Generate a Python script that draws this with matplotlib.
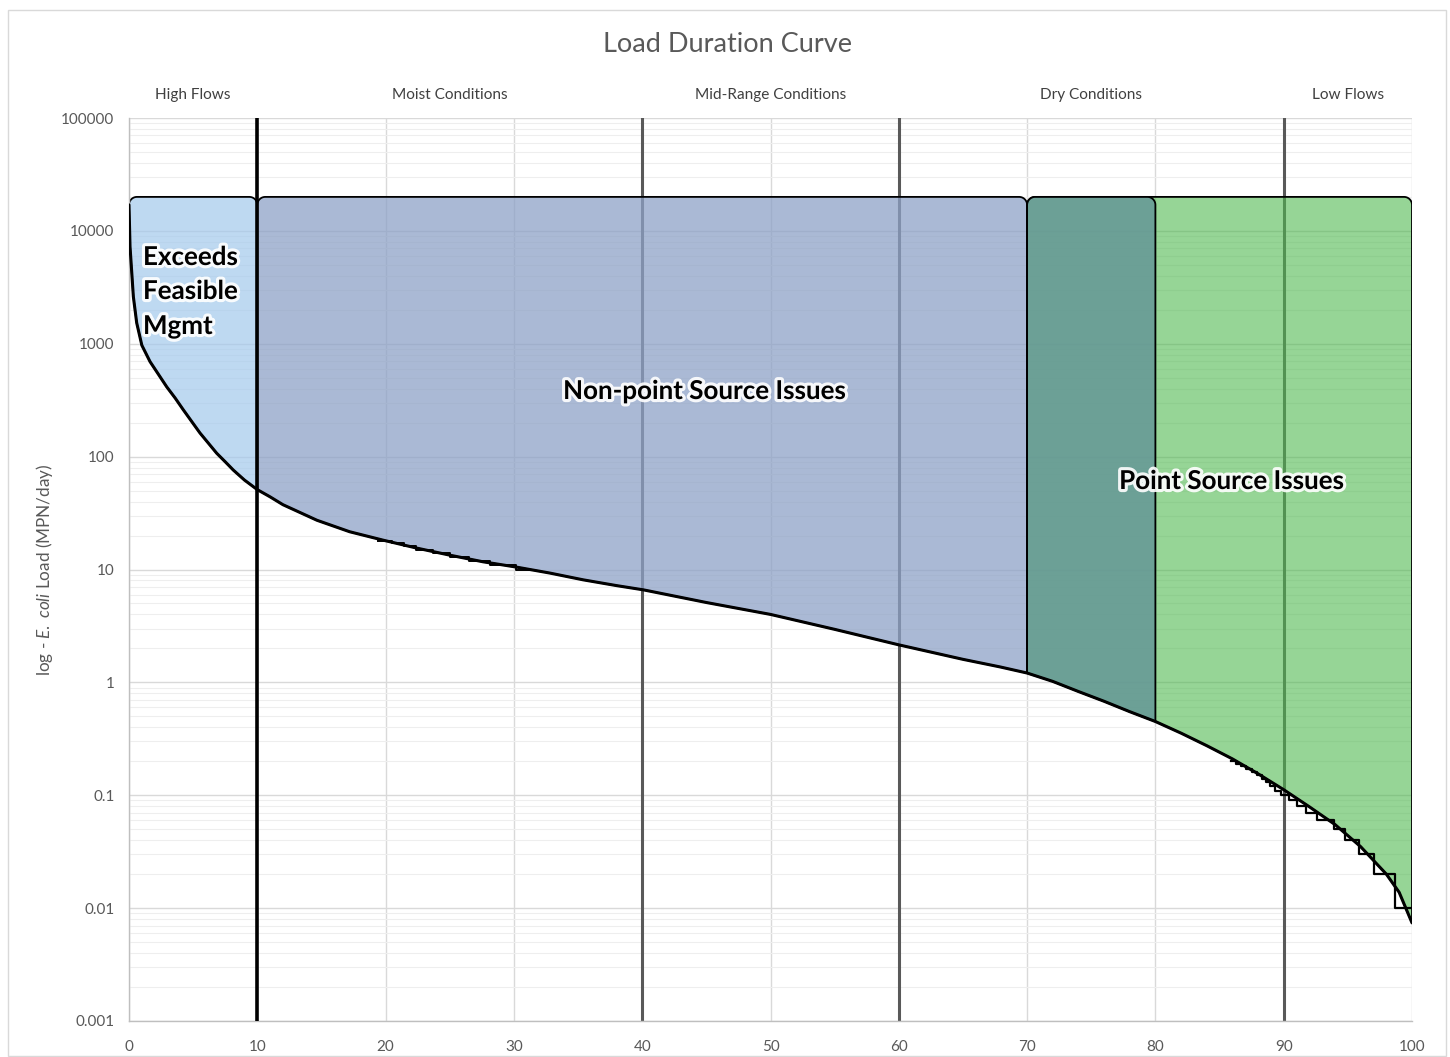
import numpy as np
import matplotlib
matplotlib.use('Agg')
import matplotlib.pyplot as plt
from matplotlib.patches import Polygon, Rectangle
from matplotlib.colors import to_rgba
from matplotlib.ticker import FixedLocator, LogLocator, NullFormatter
import matplotlib.patheffects as pe

# ---------------- data ----------------
curve_x = [0, 0.08, 0.34, 0.6, 1.0, 1.64, 2.94, 3.6, 4.23, 5.53, 6.84, 7.5, 8.13,
           9.0, 10.0, 11.0, 12.0, 14.65, 17.2, 19.8, 22.4, 25.0, 27.6, 30.2,
           32.8, 35.4, 38.0, 40.1, 45, 50, 55, 60, 65, 67.9, 70.0, 72, 74, 76,
           78, 80, 82, 84, 86, 88, 90, 92, 94, 96, 98, 99, 100]
curve_y = [17000, 7240, 2610, 1530, 970, 694, 415, 330, 260, 162, 107, 90, 76,
           62, 51, 44, 37.5, 27.3, 21.6, 18.2, 15.5, 13.4, 11.7, 10.5,
           9.3, 8.1, 7.2, 6.6, 5.1, 4.0, 2.95, 2.15, 1.6, 1.37, 1.21, 1.02, 0.83, 0.68,
           0.55, 0.45, 0.355, 0.275, 0.21, 0.155, 0.112, 0.079, 0.055, 0.035, 0.02,
           0.0138, 0.0074]

# step (measured) data where the rounding steps are visible
step_hi_x = [19.4, 20.5, 21.4, 22.4, 23.7, 25.0, 26.5, 28.1, 30.2, 31.6]
step_hi_v = [18, 17, 16, 15, 14, 13, 12, 11, 10]
step_lo_x = [85.9, 86.3, 86.7, 87.1, 87.5, 87.9, 88.3, 88.6, 88.9, 89.3, 89.8,
             90.4, 91.0, 91.7, 92.6, 93.9, 94.8, 95.9, 97.0, 98.7, 100]
step_lo_v = [0.20, 0.19, 0.18, 0.17, 0.16, 0.15, 0.14, 0.13, 0.12, 0.11, 0.10,
             0.09, 0.08, 0.07, 0.06, 0.05, 0.04, 0.03, 0.02, 0.01]

zone_names = ["High Flows", "Moist Conditions", "Mid-Range Conditions",
              "Dry Conditions", "Low Flows"]
zone_centers = [5, 25, 50, 75, 95]
zone_bounds_gray = [40, 60, 90]
zone_bound_black = 10

x_ticks = [0, 10, 20, 30, 40, 50, 60, 70, 80, 90, 100]
y_ticks = [0.001, 0.01, 0.1, 1, 10, 100, 1000, 10000, 100000]
y_ticklabels = ["0.001", "0.01", "0.1", "1", "10", "100", "1000", "10000", "100000"]

shape_top = 20000
# (x0, x1, color, alpha)
shapes = [
    (0, 10, "#a3c9ec", 0.70),
    (10, 70, "#8ea2c7", 0.75),
    (70, 100, "#50b950", 0.60),
    (70, 80, "#659797", 0.85),
]

# ---------------- figure ----------------
W, H = 1450, 1057
fig = plt.figure(figsize=(14.5, 10.57), dpi=100)
def fx(px): return px / W
def fy(py): return 1 - py / H

fig.patches.append(Rectangle((fx(8), fy(1056)), fx(1446) - fx(8), fy(10) - fy(1056),
                             transform=fig.transFigure, fill=False,
                             edgecolor="#d9d9d9", lw=1.0))

FONT = "Lato"
plt.rcParams["font.family"] = [FONT, "DejaVu Sans"]
plt.rcParams["mathtext.fontset"] = "custom"
plt.rcParams["mathtext.it"] = FONT + ":italic"
plt.rcParams["mathtext.rm"] = FONT

ax = fig.add_axes([fx(129), fy(1021), fx(1412) - fx(129), fy(118) - fy(1021)])
ax.set_yscale("log")
ax.set_xlim(0, 100)
ax.set_ylim(1e-3, 1e5)

ax.yaxis.set_major_locator(FixedLocator(y_ticks))
ax.set_yticklabels(y_ticklabels)
ax.yaxis.set_minor_locator(LogLocator(base=10, subs=np.arange(2, 10)))
ax.yaxis.set_minor_formatter(NullFormatter())
ax.set_xticks(x_ticks)
ax.set_xticklabels([str(v) for v in x_ticks])

ax.set_axisbelow(True)
ax.grid(which="major", axis="both", color="#d9d9d9", lw=1.0, zorder=0)
ax.grid(which="minor", axis="y", color="#eeeeee", lw=0.8, zorder=0)
ax.tick_params(which="both", length=0)
ax.tick_params(axis="y", labelsize=11, labelcolor="#595959", pad=10.5)
ax.tick_params(axis="x", labelsize=11, labelcolor="#595959", pad=13.5)
for s in ["top", "right"]:
    ax.spines[s].set_visible(False)
for s in ["left", "bottom"]:
    ax.spines[s].set_color("#bfbfbf")
    ax.spines[s].set_linewidth(1.0)

# zone boundary lines
for xb in zone_bounds_gray:
    ax.axvline(xb, color="#595959", lw=2.2, zorder=1)

# shapes
cx = np.array(curve_x, dtype=float)
cw = np.log10(np.array(curve_y, dtype=float))
rx, rw = 0.62, 0.071
topw = np.log10(shape_top)
t = np.linspace(0, np.pi / 2, 14)
for x0, x1, col, al in shapes:
    m = (cx >= x0) & (cx <= x1)
    bx, bw = cx[m], cw[m]
    verts = [(bx[0], bw[0])]
    verts += [(x0 + rx - rx * np.cos(a), topw - rw + rw * np.sin(a)) for a in t]
    verts += [(x1 - rx + rx * np.sin(a), topw - rw + rw * np.cos(a)) for a in t]
    verts += [(xx, ww) for xx, ww in zip(bx[::-1], bw[::-1])]
    verts = [(vx, 10 ** vw) for vx, vw in verts]
    ax.add_patch(Polygon(verts, closed=True, facecolor=to_rgba(col, al),
                         edgecolor="black", lw=1.3, zorder=2, joinstyle="round"))

# curve and steps
ax.plot(curve_x, curve_y, color="black", lw=2.2, zorder=3, solid_capstyle="round",
        solid_joinstyle="round")
ax.step(step_hi_x, step_hi_v + [step_hi_v[-1]], where="post", color="black", lw=1.4, zorder=3)
ax.step(step_lo_x, step_lo_v + [step_lo_v[-1]], where="post", color="black", lw=1.6, zorder=3)

ax.axvline(zone_bound_black, color="black", lw=2.6, zorder=4)

# texts
fig.text(fx(727), fy(44), "Load Duration Curve", ha="center", va="center",
         fontsize=19.5, color="#595959")
for name, c in zip(zone_names, zone_centers):
    ax.text(c, 1.0 + 23 / 903, name, transform=ax.get_xaxis_transform(),
            ha="center", va="center", fontsize=11.1, color="#404040")
fig.text(fx(45), fy(570), r"log - $\mathit{E.\ coli}$ Load (MPN/day)", rotation=90,
         ha="center", va="center", fontsize=12.3, color="#595959")

glow = [pe.withStroke(linewidth=4.5, foreground="white", alpha=0.9)]
for txt, py in [("Exceeds", 257), ("Feasible", 291), ("Mgmt", 326)]:
    fig.text(fx(143), fy(py), txt, ha="left", va="center", fontsize=18.7,
             fontweight="bold", color="black", path_effects=glow, zorder=5)
fig.text(fx(705), fy(391), "Non-point Source Issues", ha="center", va="center",
         fontsize=18.7, fontweight="bold", color="black", path_effects=glow, zorder=5)
fig.text(fx(1232), fy(481), "Point Source Issues", ha="center", va="center",
         fontsize=18.7, fontweight="bold", color="black", path_effects=glow, zorder=5)

fig.savefig("out.png", dpi=100, facecolor="white")
